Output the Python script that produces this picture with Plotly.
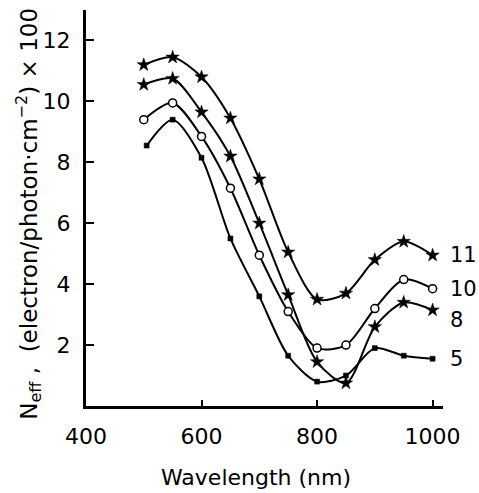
import plotly.graph_objects as go

wavelength = [500, 550, 600, 650, 700, 750, 800, 850, 900, 950, 1000]
wavelength_5 = [505, 550, 600, 650, 700, 750, 800, 850, 900, 950, 1000]
s11 = [11.2, 11.45, 10.8, 9.45, 7.45, 5.05, 3.5, 3.7, 4.8, 5.4, 4.95]
s10 = [9.4, 9.95, 8.85, 7.15, 4.95, 3.1, 1.9, 2.0, 3.2, 4.15, 3.85]
s8 = [10.55, 10.75, 9.65, 8.2, 6.0, 3.65, 1.45, 0.75, 2.6, 3.4, 3.15]
s5 = [8.55, 9.4, 8.15, 5.5, 3.6, 1.65, 0.8, 1.0, 1.9, 1.65, 1.55]
series_labels = ["11", "10", "8", "5"]
x_ticks = [400, 600, 800, 1000]
y_ticks = [2, 4, 6, 8, 10, 12]

FONT = "DejaVu Sans"
fig = go.Figure()

def add(x, y, symbol, color, size, lw):
    fig.add_trace(go.Scatter(
        x=x, y=y, mode="lines+markers", cliponaxis=False,
        line=dict(color="black", width=2, shape="spline", smoothing=0.8),
        marker=dict(symbol=symbol, color=color, size=size,
                    line=dict(color="black", width=lw)),
        showlegend=False))

add(wavelength, s11, "star", "black", 10, 0.5)
add(wavelength, s8, "star", "black", 10, 0.5)
add(wavelength, s10, "circle", "white", 8, 1.5)
add(wavelength_5, s5, "square", "black", 5, 0.5)

yshifts = [0, 0, -10, 0]
for lab, ys, dy in zip(series_labels, [s11, s10, s8, s5], yshifts):
    fig.add_annotation(x=wavelength[-1], y=ys[-1], text=lab, showarrow=False,
                       xanchor="left", xshift=16, yshift=dy, borderpad=0,
                       font=dict(family=FONT, size=21, color="black"))

fig.add_annotation(xref="paper", yref="paper", x=0.476, y=-0.145,
                   xanchor="center", yanchor="top", showarrow=False,
                   text="Wavelength (nm)",
                   font=dict(family=FONT, size=22, color="black"))
fig.add_annotation(xref="paper", yref="paper", x=-0.16, y=0.485,
                   xanchor="center", yanchor="middle", showarrow=False,
                   textangle=-90,
                   text="N<sub>eff</sub> ,  (electron/photon·cm<sup>−2</sup>) × 100",
                   font=dict(family=FONT, size=23, color="black"))

fig.update_layout(
    width=479, height=493,
    margin=dict(l=86, r=36, t=10, b=87),
    plot_bgcolor="white", paper_bgcolor="white",
    font=dict(family=FONT, size=22, color="black"),
)
fig.update_xaxes(
    range=[400, 1018], tickvals=x_ticks, ticks="inside", ticklen=6, tickwidth=2,
    tickcolor="black", showline=True, linecolor="black", linewidth=3,
    showgrid=False, zeroline=False, ticklabelstandoff=9, automargin=False)
fig.update_yaxes(
    range=[0, 13], tickvals=y_ticks, ticks="inside", ticklen=8, tickwidth=2,
    tickcolor="black", showline=True, linecolor="black", linewidth=3,
    showgrid=False, zeroline=False, ticklabelstandoff=8, automargin=False)

fig.write_html("out.html", config={"displayModeBar": False},
               post_script="document.body.style.margin='0';"
                           "document.body.style.overflow='hidden';")
